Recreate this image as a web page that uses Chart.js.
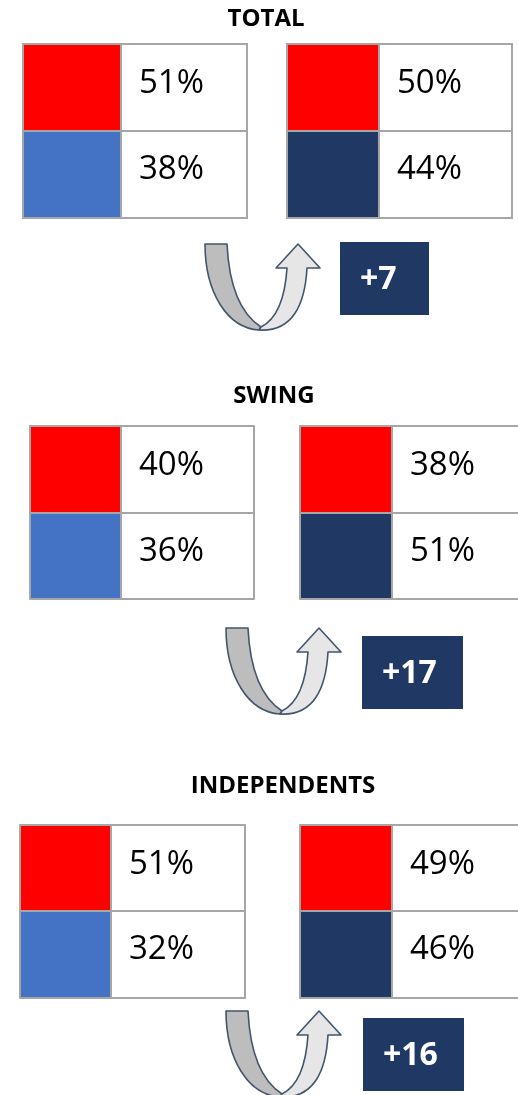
<!DOCTYPE html>
<html>
<head>
<meta charset="utf-8">
<style>
html,body{margin:0;padding:0;background:#fff;overflow:hidden}
#wrap{width:518px;height:1095px;position:relative}
</style>
<script src="https://cdn.jsdelivr.net/npm/chart.js@4.4.1/dist/chart.umd.min.js"></script>
</head>
<body>
<div id="wrap"><canvas id="c" width="518" height="1095"></canvas></div>
<script>
// ---- data ----
const groups = ['TOTAL', 'SWING', 'INDEPENDENTS'];
const repBefore = [51, 40, 51];
const demBefore = [38, 36, 32];
const repAfter = [50, 38, 49];
const demAfter = [44, 51, 46];
const swingShift = [7, 17, 16];

// ---- layout (positions only) ----
const layout = [
  {title:[266, 26],  top:44,  mid:131, bot:218, left:[23,121,247], right:[287,379,512], arrow:[205,244],  box:[340,242,89,73]},
  {title:[274, 403], top:426, mid:513, bot:599, left:[30,121,254], right:[300,392,526], arrow:[226,628],  box:[362,636,101,73]},
  {title:[283, 793], top:825, mid:911, bot:998, left:[20,111,245], right:[300,392,526], arrow:[226,1011], box:[363,1018,101,73]}
];
const RED = '#ff0000', LIGHTBLUE = '#4472c4', NAVY = '#203864', GRID = '#a6a6a6';

const panelPlugin = {
  id: 'panels',
  afterDraw(chart) {
    const ctx = chart.ctx;
    const xs = chart.scales.x, ys = chart.scales.y;
    const px = v => xs.getPixelForValue(v), py = v => ys.getPixelForValue(v);
    ctx.save();

    function rect(x0, y0, x1, y1, fill) {
      ctx.fillStyle = fill;
      ctx.fillRect(px(x0), py(y0), px(x1) - px(x0), py(y1) - py(y0));
    }
    function table(L, cols, c1, c2, v1, v2) {
      rect(cols[0], L.top, cols[1], L.mid, c1);
      rect(cols[0], L.mid, cols[1], L.bot, c2);
      ctx.strokeStyle = GRID; ctx.lineWidth = 2;
      ctx.strokeRect(px(cols[0]), py(L.top), px(cols[2]) - px(cols[0]), py(L.bot) - py(L.top));
      ctx.beginPath();
      ctx.moveTo(px(cols[1]), py(L.top)); ctx.lineTo(px(cols[1]), py(L.bot));
      ctx.moveTo(px(cols[0]), py(L.mid)); ctx.lineTo(px(cols[2]), py(L.mid));
      ctx.stroke();
      ctx.fillStyle = '#000';
      ctx.font = '33px "Open Sans"';
      ctx.textAlign = 'left'; ctx.textBaseline = 'alphabetic';
      ctx.fillText(v1 + '%', px(cols[1] + 18), py(L.top + 49));
      ctx.fillText(v2 + '%', px(cols[1] + 18), py(L.mid + 48));
    }
    function arrow(ox, oy) {
      const P = (dx, dy) => [px(ox + dx), py(oy + dy)];
      ctx.lineWidth = 1.6; ctx.strokeStyle = '#44546a'; ctx.lineJoin = 'round';
      // dark descending band
      ctx.beginPath();
      ctx.moveTo(...P(0, 0));
      ctx.lineTo(...P(22, 0));
      ctx.bezierCurveTo(...P(24, 42), ...P(36, 70), ...P(56, 83));
      ctx.lineTo(...P(54, 86));
      ctx.bezierCurveTo(...P(22, 84), ...P(0, 48), ...P(0, 0));
      ctx.closePath();
      ctx.fillStyle = '#bdbdbd'; ctx.fill(); ctx.stroke();
      // light ascending band with head
      ctx.beginPath();
      ctx.moveTo(...P(54, 86));
      ctx.bezierCurveTo(...P(88, 88), ...P(100, 60), ...P(102, 24));
      ctx.lineTo(...P(115, 24));
      ctx.lineTo(...P(93, 0));
      ctx.lineTo(...P(71, 24));
      ctx.lineTo(...P(82, 24));
      ctx.bezierCurveTo(...P(80, 55), ...P(72, 75), ...P(56, 83));
      ctx.closePath();
      ctx.fillStyle = '#e7e6e6'; ctx.fill(); ctx.stroke();
    }

    groups.forEach((g, i) => {
      const L = layout[i];
      ctx.fillStyle = '#000';
      ctx.font = 'bold 24px "Open Sans"';
      ctx.textAlign = 'center'; ctx.textBaseline = 'alphabetic';
      ctx.fillText(g, px(L.title[0]), py(L.title[1]));
      table(L, L.left, RED, LIGHTBLUE, repBefore[i], demBefore[i]);
      table(L, L.right, RED, NAVY, repAfter[i], demAfter[i]);
      arrow(L.arrow[0], L.arrow[1]);
      const b = L.box;
      rect(b[0], b[1], b[0] + b[2], b[1] + b[3], NAVY);
      ctx.fillStyle = '#fff';
      ctx.font = 'bold 32px "Open Sans"';
      ctx.textAlign = 'left'; ctx.textBaseline = 'middle';
      ctx.fillText('+' + swingShift[i], px(b[0] + 20), py(b[1] + b[3] / 2 + 1));
    });
    ctx.restore();
  }
};

new Chart(document.getElementById('c'), {
  type: 'scatter',
  data: { datasets: [{ data: [], pointRadius: 0 }] },
  options: {
    responsive: false,
    animation: false,
    devicePixelRatio: 1,
    layout: { padding: 0 },
    plugins: { legend: { display: false }, tooltip: { enabled: false } },
    scales: {
      x: { type: 'linear', min: 0, max: 518, display: false },
      y: { type: 'linear', min: 0, max: 1095, reverse: true, display: false }
    }
  },
  plugins: [panelPlugin]
});
</script>
</body>
</html>
